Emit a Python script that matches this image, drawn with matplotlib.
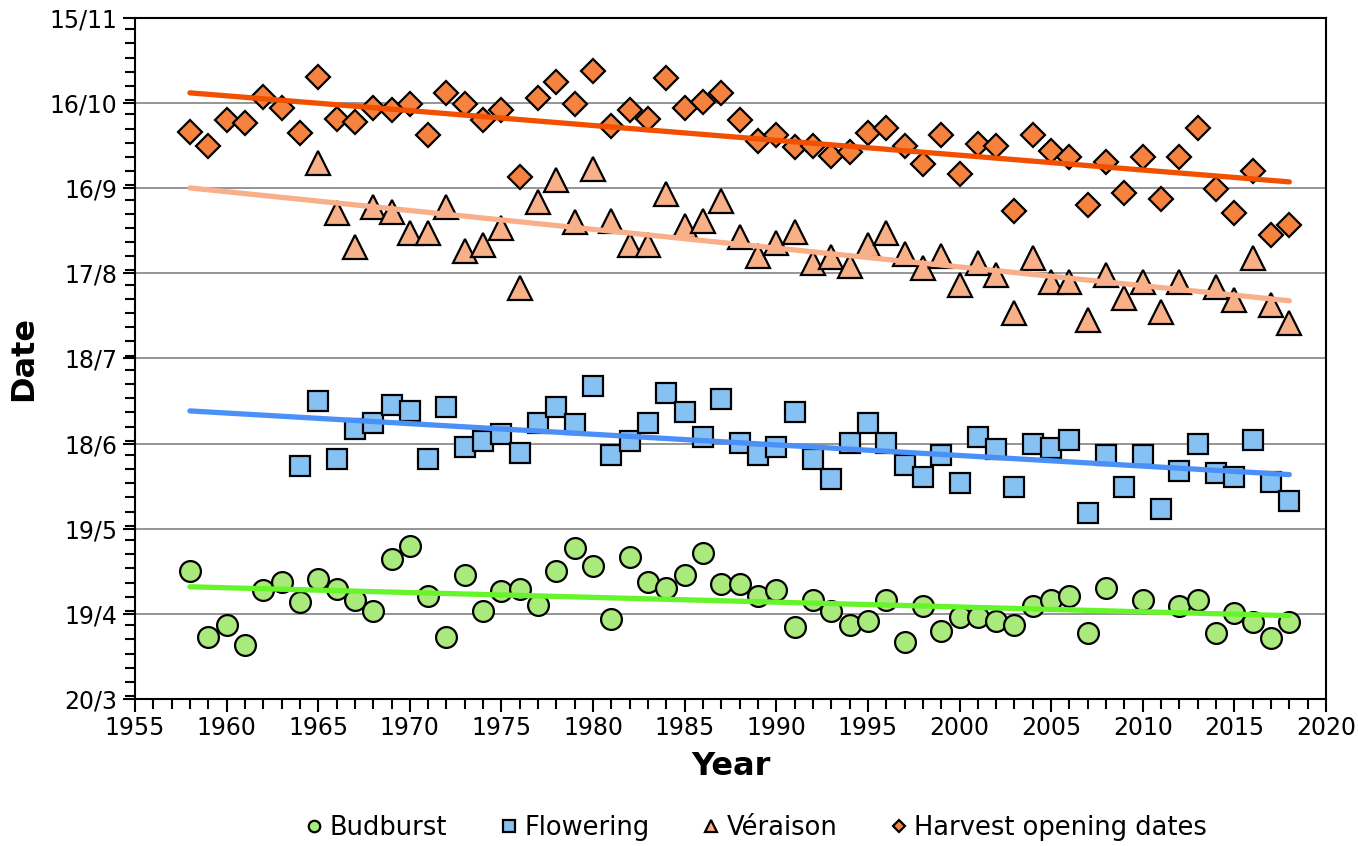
import numpy as np
import matplotlib
matplotlib.use("Agg")
import matplotlib.pyplot as plt
from matplotlib.ticker import MultipleLocator, FixedLocator

# day-of-year values (non-leap year numbering)
years_bud = [1958, 1959, 1960, 1961, 1962, 1963, 1964, 1965, 1966, 1967, 1968, 1969, 1970,
             1971, 1972, 1973, 1974, 1975, 1976, 1977, 1978, 1979, 1980, 1981, 1982, 1983,
             1984, 1985, 1986, 1987, 1988, 1989, 1990, 1991, 1992, 1993, 1994, 1995, 1996,
             1997, 1998, 1999, 2000, 2001, 2002, 2003, 2004, 2005, 2006, 2007, 2008, 2010,
             2012, 2013, 2014, 2015, 2016, 2017, 2018]
budburst = [124.1, 100.9, 105.1, 98.0, 117.4, 120.2, 113.2, 121.3, 117.8, 113.9, 110.0, 128.3, 132.9,
            115.3, 100.9, 122.7, 110.0, 117.1, 117.8, 112.1, 124.1, 132.2, 125.9, 107.2, 129.0, 120.2,
            118.1, 122.7, 130.4, 119.5, 119.5, 115.3, 117.4, 104.4, 113.9, 110.0, 105.1, 106.5, 113.9,
            99.1, 111.8, 103.0, 107.9, 107.9, 106.5, 105.1, 111.6, 114.0, 115.4, 102.3, 118.1, 113.8,
            111.9, 114.0, 102.3, 109.3, 106.2, 100.4, 106.2]

years_flo = list(range(1964, 2019))
flowering = [161.1, 184.0, 163.6, 174.2, 176.3, 182.6, 180.5, 163.6, 181.9, 167.8, 169.9, 172.4,
             165.7, 176.3, 181.9, 175.9, 189.3, 165.0, 169.9, 176.3, 186.8, 180.1, 171.3, 184.7,
             169.2, 165.0, 167.8, 180.1, 163.6, 156.5, 169.2, 176.3, 169.2, 161.5, 157.2, 165.0,
             155.1, 171.3, 167.1, 153.7, 169.0, 167.6, 170.3, 144.6, 165.0, 153.8, 165.0, 146.1,
             159.4, 169.0, 158.7, 157.3, 170.3, 155.6, 148.8]

years_ver = list(range(1965, 2013)) + [2014, 2015, 2016, 2017, 2018]
veraison = [267.9, 250.3, 238.3, 252.4, 250.6, 243.2, 243.2, 252.4, 236.9, 239.0, 245.0, 223.8,
            254.2, 261.9, 247.1, 265.8, 247.5, 239.0, 239.0, 257.0, 245.7, 247.5, 254.5, 241.8,
            235.1, 239.7, 243.6, 232.7, 234.8, 231.6, 239.0, 243.2, 235.8, 230.9, 235.1, 224.9,
            232.7, 228.4, 215.0, 234.4, 226.0, 226.1, 212.6, 228.4, 220.3, 226.1, 215.4, 226.1,
            224.2, 219.6, 234.4, 217.9, 211.5]

years_har = list(range(1958, 2019))
harvest = [278.8, 273.9, 283.1, 282.0, 291.2, 287.3, 278.5, 298.2, 283.4, 282.3, 287.3, 286.6,
           288.7, 277.8, 292.6, 288.7, 283.1, 286.6, 263.0, 290.8, 296.4, 288.7, 300.3, 281.0,
           286.6, 283.4, 297.9, 287.3, 289.4, 292.6, 283.1, 275.7, 277.8, 273.5, 273.9, 270.4,
           271.8, 278.5, 280.2, 273.9, 267.5, 277.8, 264.0, 274.6, 273.9, 251.0, 277.8, 272.1,
           270.0, 253.1, 268.3, 257.3, 270.0, 255.2, 270.0, 280.2, 258.7, 250.3, 265.1, 242.5,
           246.0]

ytick_days = [79, 109, 139, 169, 199, 229, 259, 289, 319]
ytick_labels = ["20/3", "19/4", "19/5", "18/6", "18/7", "17/8", "16/9", "16/10", "15/11"]

fig = plt.figure(figsize=(13.58, 8.46), dpi=100)
ax = fig.add_axes([0.0994, 0.1738, 0.877, 0.805])

series = [
    ("Budburst", years_bud, budburst, "o", 15, "#aaea7c", "#66f52a"),
    ("Flowering", years_flo, flowering, "s", 14.5, "#85c1f2", "#4a90f7"),
    ("Véraison", years_ver, veraison, "^", 17, "#f8b089", "#f9b08a"),
    ("Harvest opening dates", years_har, harvest, "D", 12, "#f5823e", "#f05000"),
]

trend_x = np.array([1958, 2018])
for name, xs, ys, mk, ms, fc, lc in series:
    ax.plot(xs, ys, linestyle="none", marker=mk, markersize=ms, markerfacecolor=fc,
            markeredgecolor="black", markeredgewidth=1.6, label=name, zorder=3)
for name, xs, ys, mk, ms, fc, lc in series:
    k, b = np.polyfit(xs, ys, 1)
    ax.plot(trend_x, k * trend_x + b, color=lc, linewidth=3.8, solid_capstyle="round", zorder=4)

ax.set_xlim(1955, 2020)
ax.set_ylim(79, 319)
ax.xaxis.set_major_locator(MultipleLocator(5))
ax.xaxis.set_minor_locator(MultipleLocator(1))
ax.yaxis.set_major_locator(FixedLocator(ytick_days))
ax.set_yticklabels(ytick_labels)
ax.yaxis.set_minor_locator(MultipleLocator(5))
ax.grid(axis="y", which="major", color="#8c8c8c", linewidth=1.3, zorder=0)
ax.set_axisbelow(True)

for s in ax.spines.values():
    s.set_linewidth(1.5)
ax.tick_params(which="both", direction="out", width=1.5, labelsize=17)
ax.tick_params(which="major", length=9)
ax.tick_params(which="minor", length=7)

ax.set_xlabel("Year", fontsize=23, fontweight="bold", labelpad=8)
ax.set_ylabel("Date", fontsize=23, fontweight="bold", labelpad=8)

ax.legend(loc="center", bbox_to_anchor=(0.52, -0.19), ncol=4, frameon=False,
          fontsize=18.5, markerscale=0.55, handletextpad=0.1, columnspacing=1.9, handlelength=1.0,
          borderpad=0.2)

fig.savefig("out.png", dpi=100)
